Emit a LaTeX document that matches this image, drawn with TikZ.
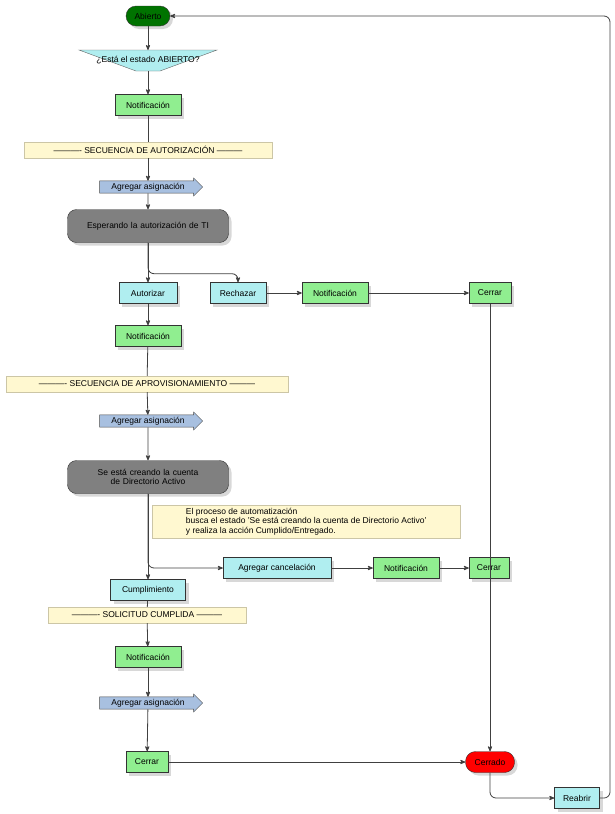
\documentclass[tikz,border=0pt]{standalone}
\usepackage{fontspec}
\setmainfont{Liberation Sans}
\usetikzlibrary{positioning,calc,arrows,shadows,shapes.arrows}
\definecolor{verde}{HTML}{90EE90}
\definecolor{cian}{HTML}{B0EEF0}
\definecolor{crema}{HTML}{FFF8D0}
\definecolor{azul}{HTML}{A8C0E0}
\tikzset{
  base/.style={draw=black!80, font=\fontsize{8.5}{9.5}\selectfont, inner sep=2pt, drop shadow={shadow xshift=3pt, shadow yshift=-3pt, fill=black!30}},
  notif/.style={base, fill=verde, minimum width=66pt, minimum height=21pt},
  accion/.style={base, fill=cian, minimum height=21pt},
  estado/.style={base, rounded corners=9pt, fill=black!50, minimum width=161pt, minimum height=33pt, align=center, text width=150pt},
  banner/.style={fill=crema, draw=crema!80!black, font=\fontsize{8.5}{9.5}\selectfont, minimum height=16pt, inner sep=1pt},
  asig/.style={shape=single arrow, draw=black!70, fill=azul, single arrow head extend=2pt, minimum height=103pt, minimum width=18pt, inner sep=0pt, font=\fontsize{8.5}{9.5}\selectfont},
  flecha/.style={->, draw=black!75, thick},
}
\begin{document}
\begin{tikzpicture}[x=1pt, y=-1pt, >=stealth']
\useasboundingbox (0,0) rectangle (615,814);

% columna principal
\node [base, rounded corners=10pt, fill=green!45!black, minimum width=44pt, minimum height=20pt] (abierto) at (148,16) {Abierto};
\draw [fill=cian, draw=black!60] (79,50) -- (217,50) -- (160,71) -- (136,71) -- cycle;
\node [font=\fontsize{8.5}{9.5}\selectfont] (pregunta) at (148,60) {¿Está el estado ABIERTO?};
\coordinate (pregA) at (148,50);
\coordinate (pregB) at (148,71);
\node [notif] (notif1) at (148,105) {Notificación};
\node [banner, minimum width=248pt] (sec1) at (148,150) {---------- SECUENCIA DE AUTORIZACIÓN ———};
\node [asig] (asig1) at (148,187) {Agregar asignación};
\node [estado] (espera) at (148,226) {Esperando la autorización de TI};

\node [accion, minimum width=58pt] (autorizar) at (148,293) {Autorizar};
\node [accion, minimum width=56pt] (rechazar) at (238,293) {Rechazar};
\node [notif] (notif2) at (335,293) {Notificación};
\node [notif, minimum width=42pt] (cerrar1) at (490,293) {Cerrar};

\node [notif] (notif3) at (148,336) {Notificación};
\node [banner, minimum width=282pt] (sec2) at (147,384) {---------- SECUENCIA DE APROVISIONAMIENTO ———};
\node [asig] (asig2) at (148,421) {Agregar asignación};
\node [estado] (creando) at (148,477) {Se está creando la cuenta de Directorio Activo};
\node [banner, align=left, anchor=north west, minimum width=308pt, inner sep=3pt] (nota) at (152,505) {El proceso de automatización\\busca el estado 'Se está creando la cuenta de Directorio Activo'\\y realiza la acción Cumplido/Entregado.};

\node [accion, minimum width=108pt] (cancel) at (277,568) {Agregar cancelación};
\node [notif] (notif4) at (406,568) {Notificación};
\node [notif, minimum width=40pt] (cerrar2) at (489,568) {Cerrar};

\node [accion, minimum width=75pt] (cumpl) at (148,590) {Cumplimiento};
\node [banner, minimum width=198pt] (sec3) at (147,615) {---------- SOLICITUD CUMPLIDA ———};
\node [notif] (notif5) at (148,657) {Notificación};
\node [asig] (asig3) at (148,703) {Agregar asignación};
\node [notif, minimum width=42pt] (cerrar3) at (147,762) {Cerrar};
\node [base, rounded corners=10pt, fill=red, minimum width=49pt, minimum height=21pt] (cerrado) at (490,762) {Cerrado};
\node [accion, minimum width=45pt] (reabrir) at (577,798) {Reabrir};

% conectores
\draw [flecha] (abierto) -- (pregA);
\draw [flecha] (pregB) -- (notif1);
\draw [draw=black!75, thick] (notif1) -- (sec1);
\draw [flecha] (sec1) -- (asig1);
\draw [flecha] (asig1) -- (espera);
\draw [flecha] (espera) -- (autorizar);
\draw [flecha, rounded corners=6pt] (espera.south) |- ([yshift=-31pt]espera.south -| rechazar) -- (rechazar);
\draw [flecha] (rechazar) -- (notif2);
\draw [flecha] (notif2) -- (cerrar1);
\draw [flecha] (cerrar1) -- (cerrado);
\draw [flecha] (autorizar) -- (notif3);
\draw [draw=black!75, thick] (notif3) -- (sec2);
\draw [flecha] (sec2) -- (asig2);
\draw [flecha] (asig2) -- (creando);
\draw [flecha] (creando) -- (cumpl);
\draw [flecha, rounded corners=6pt] (creando.south) |- (cancel);
\draw [flecha] (cancel) -- (notif4);
\draw [flecha] (notif4) -- (cerrar2);
\draw [draw=black!75, thick] (cumpl) -- (sec3);
\draw [flecha] (sec3) -- (notif5);
\draw [flecha] (notif5) -- (asig3);
\draw [flecha] (asig3) -- (cerrar3);
\draw [flecha] (cerrar3) -- (cerrado);
\draw [flecha, rounded corners=6pt] (cerrado) |- (reabrir);
\draw [flecha, rounded corners=6pt] (reabrir.east) -| (610,400) |- (abierto);
\end{tikzpicture}
\end{document}
